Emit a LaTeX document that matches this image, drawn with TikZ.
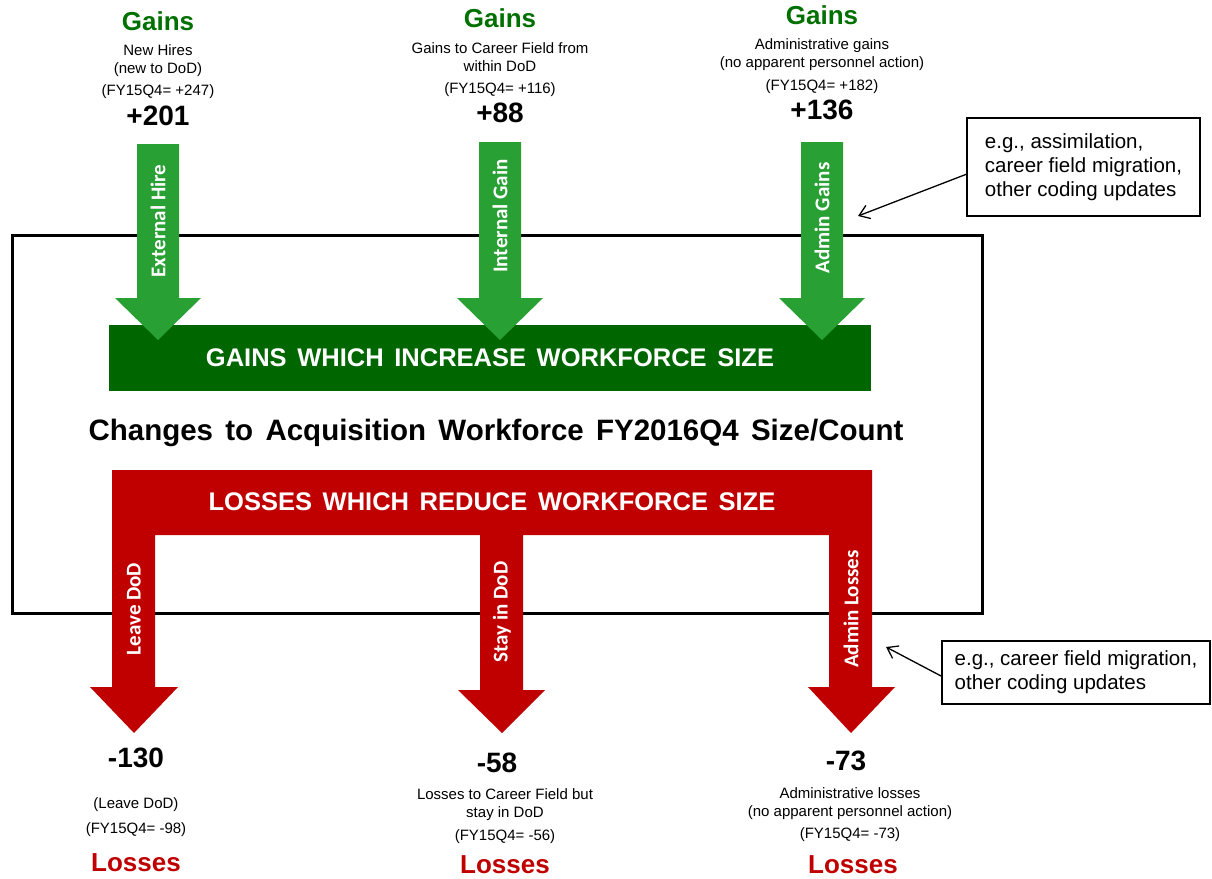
\documentclass[tikz,border=0pt]{standalone}
\usepackage{fontspec}
\setmainfont{Liberation Sans}
\newfontfamily\flowfont{Carlito}
\newfontfamily\barfont[WordSpace=2.1]{Liberation Sans}
\newfontfamily\capfont[WordSpace=1.5]{Liberation Sans}
\usetikzlibrary{arrows.meta}
\definecolor{GainDark}{RGB}{0,102,0}
\definecolor{GainLight}{RGB}{40,160,52}
\definecolor{GainText}{RGB}{0,112,0}
\definecolor{LossRed}{RGB}{192,0,0}

\begin{document}
\begin{tikzpicture}[
  x=1pt, y=-1pt,
  every node/.style={inner sep=0pt, outer sep=0pt},
  head/.style={font=\fontsize{26}{30}\selectfont\bfseries},
  note/.style={font=\fontsize{15}{17.5}\selectfont, align=center},
  val/.style={font=\fontsize{28}{32}\selectfont\bfseries},
  flowlbl/.style={font=\flowfont\fontsize{21}{24}\selectfont\bfseries, text=white, rotate=90},
  bartxt/.style={font=\barfont\fontsize{25.5}{30}\selectfont\bfseries, text=white},
  callout/.style={draw, line width=1.6pt, fill=white, align=left, anchor=north west,
    font=\fontsize{20.5}{24}\selectfont, inner xsep=14pt},
  ptr/.style={-{Straight Barb[length=10pt,width=14pt]}, line width=1.3pt}
]
\useasboundingbox (0,0) rectangle (1212,878);

% outer frame
\node[draw, line width=3pt, minimum width=970, minimum height=378] (frame) at (497,424) {};

% gains bar and incoming arrows
\node[fill=GainDark, minimum width=762, minimum height=66] (gainbar) at (490,358) {};
\node[bartxt] (gaintxt) at (490,358) {GAINS WHICH INCREASE WORKFORCE SIZE};
\fill[GainLight] (137,144) -- (179,144) -- (179,298) -- (201,298) -- (158,340) -- (115,298) -- (137,298) -- cycle;
\fill[GainLight] (479,142) -- (521,142) -- (521,298) -- (543,298) -- (500,340) -- (457,298) -- (479,298) -- cycle;
\fill[GainLight] (801,142) -- (843,142) -- (843,298) -- (865,298) -- (822,340) -- (779,298) -- (801,298) -- cycle;
\node[flowlbl] (exthire) at (158,221) {External Hire};
\node[flowlbl] (intgain) at (500,216) {Internal Gain};
\node[flowlbl] (admgain) at (822,218) {Admin Gains};

% centre caption
\node[font=\capfont\fontsize{29.5}{34}\selectfont\bfseries] (caption) at (496,433)
  {Changes to Acquisition Workforce FY2016Q4 Size/Count};

% losses bar with its three outgoing arrows
\fill[LossRed] (112,470) -- (872,470) -- (872,687) -- (895,687) -- (851,733) -- (808,687) -- (829,687)
  -- (829,535) -- (523,535) -- (523,690) -- (545,690) -- (502,733) -- (458,690) -- (480,690)
  -- (480,535) -- (155,535) -- (155,687) -- (178,687) -- (134,733) -- (90,687) -- (112,687) -- cycle;
\node[bartxt] (losstxt) at (492,502) {LOSSES WHICH REDUCE WORKFORCE SIZE};
\node[flowlbl] (leave) at (134,609) {Leave DoD};
\node[flowlbl] (stay) at (502,612) {Stay in DoD};
\node[flowlbl] (admloss) at (851,609) {Admin Losses};

% gains, top row
\node[head, text=GainText] (g1) at (158,21) {Gains};
\node[note] (g1note) at (158,60.5) {New Hires\\(new to DoD)};
\node[note] (g1prev) at (158,92) {(FY15Q4= +247)};
\node[val] (g1val) at (158,116) {+201};

\node[head, text=GainText] (g2) at (500,18) {Gains};
\node[note] (g2note) at (500,57) {Gains to Career Field from\\within DoD};
\node[note] (g2prev) at (500,90) {(FY15Q4= +116)};
\node[val] (g2val) at (500,113) {+88};

\node[head, text=GainText] (g3) at (822,15) {Gains};
\node[note] (g3note) at (822,54.5) {Administrative gains\\(no apparent personnel action)};
\node[note] (g3prev) at (822,87) {(FY15Q4= +182)};
\node[val] (g3val) at (822,110) {+136};

% losses, bottom row
\node[val] (l1val) at (136,758) {-130};
\node[note] (l1note) at (136,805) {(Leave DoD)};
\node[note] (l1prev) at (136,830) {(FY15Q4= -98)};
\node[head, text=LossRed] (l1) at (136,863) {Losses};

\node[val] (l2val) at (497,763) {-58};
\node[note] (l2note) at (505,804.5) {Losses to Career Field but\\stay in DoD};
\node[note] (l2prev) at (505,837) {(FY15Q4= -56)};
\node[head, text=LossRed] (l2) at (505,865) {Losses};

\node[val] (l3val) at (846,761) {-73};
\node[note] (l3note) at (850,803.5) {Administrative losses\\(no apparent personnel action)};
\node[note] (l3prev) at (850,835) {(FY15Q4= -73)};
\node[head, text=LossRed] (l3) at (853,865) {Losses};

% side notes
\node[callout, minimum width=233, minimum height=98] (gainnote) at (967,118)
  {e.g., assimilation,\\career field migration,\\other coding updates};
\node[callout, minimum width=268, minimum height=63, inner xsep=12pt] (lossnote) at (942,641)
  {e.g., career field migration,\\other coding updates};
\coordinate (gaintip) at (858,216);
\coordinate (losstip) at (886,647);
\draw[ptr] ([yshift=-7pt]gainnote.west) -- (gaintip);
\draw[ptr] ([yshift=-4pt]lossnote.west) -- (losstip);
\end{tikzpicture}
\end{document}
